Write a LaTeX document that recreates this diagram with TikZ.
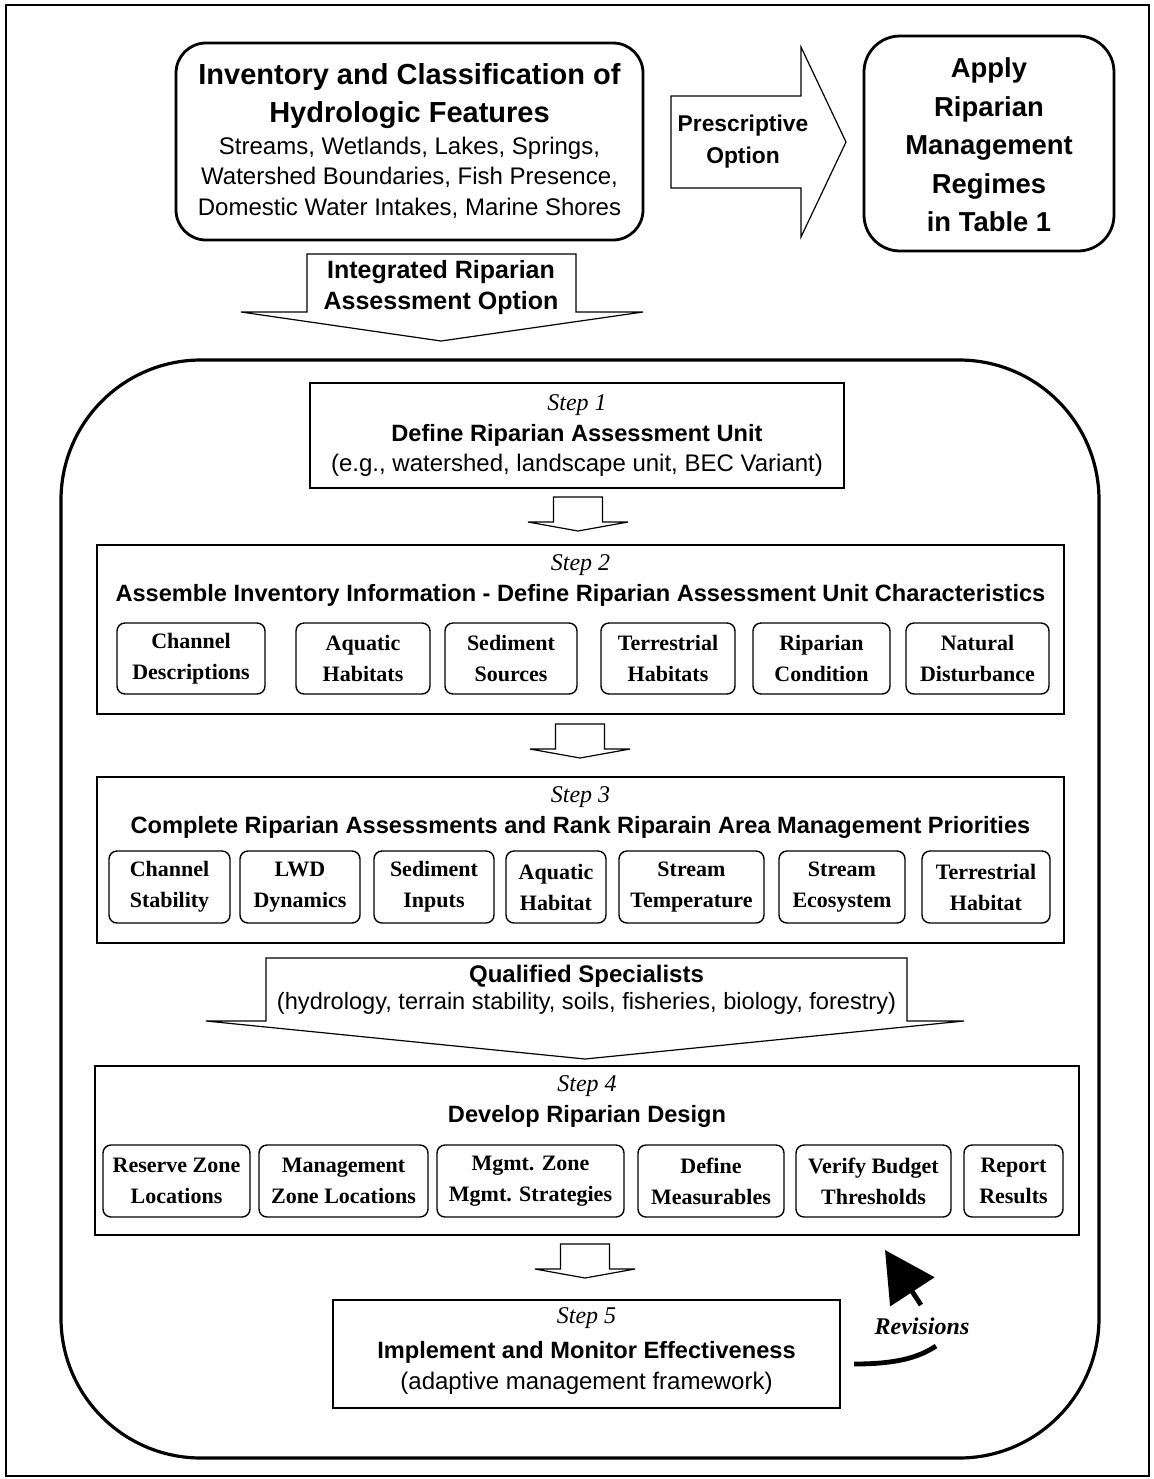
\documentclass[tikz,border=0pt]{standalone}
\usepackage{fontspec}
\setmainfont{Liberation Serif}
\setsansfont{Liberation Sans}
\usetikzlibrary{arrows.meta}
\begin{document}
\begin{tikzpicture}[x=0.5pt,y=-0.5pt,
   wh/.style n args={2}{minimum width=#1,minimum height=#2},
   topbox/.style={draw,line width=1.4pt,rounded corners=15pt,inner sep=0pt},
   stepbox/.style={draw,line width=0.9pt,inner sep=0pt},
   itembox/.style={draw,line width=0.7pt,rounded corners=4pt,inner sep=0pt,align=center,font=\fontsize{11}{15.5}\selectfont\bfseries},
   blockarrow/.style={draw,line width=0.6pt,line join=miter},
   arrowtext/.style={inner sep=0pt,align=center,font=\sffamily\bfseries\fontsize{12}{16}\selectfont},
   steplabel/.style={inner sep=0pt,font=\fontsize{12}{14}\selectfont\itshape},
   steptitle/.style={inner sep=0pt,font=\sffamily\bfseries\fontsize{11.8}{14}\selectfont},
   stepnote/.style={inner sep=0pt,font=\sffamily\fontsize{12}{14}\selectfont},
   revline/.style={line width=2.4pt,line cap=butt}]
\useasboundingbox (0,0) rectangle (1154,1479);
\draw[line width=0.7pt] (6,5) rectangle (1149,1476);
% top row
\node[topbox,wh={233.5pt}{98.5pt}] (inventory) at (409.5,141.5) {};
\node[inner sep=0pt,align=center,font=\sffamily\bfseries\fontsize{14.5}{19}\selectfont] (invtitle) at (409.5,96) {Inventory and Classification of\\Hydrologic Features};
\node[inner sep=0pt,align=center,font=\sffamily\fontsize{12}{15.25}\selectfont] (invlist) at (409.5,177.5) {Streams, Wetlands, Lakes, Springs,\\Watershed Boundaries, Fish Presence,\\Domestic Water Intakes, Marine Shores};
\draw[blockarrow] (671,96) -- (801,96) -- (801,47) -- (846,142) -- (801,237) -- (801,188) -- (671,188) -- cycle;
\node[arrowtext,font=\sffamily\bfseries\fontsize{11.4}{16}\selectfont] (prescr) at (743,142) {Prescriptive\\Option};
\node[topbox,rounded corners=18pt,wh={125pt}{107.5pt}] (apply) at (989,143.5) {};
\node[inner sep=0pt,align=center,font=\sffamily\bfseries\fontsize{13.7}{19.25}\selectfont] (applytxt) at (989,145) {Apply\\Riparian\\Management\\Regimes\\in Table 1};
\draw[blockarrow] (307,254) -- (576,254) -- (576,312) -- (643,312) -- (441,341) -- (241,312) -- (307,312) -- cycle;
\node[arrowtext,font=\sffamily\bfseries\fontsize{12.5}{15.5}\selectfont] (integ) at (441,287.5) {Integrated Riparian\\Assessment Option};
% assessment steps
\draw[line width=1.6pt,rounded corners=70pt] (61,360) rectangle (1099,1458);
\node[stepbox,wh={267pt}{52.5pt}] (step1) at (577,435.5) {};
\node[steplabel] (step1lbl) at (577,405) {Step 1};
\node[steptitle] (step1ttl) at (577,435) {Define Riparian Assessment Unit};
\node[stepnote] (step1note) at (577,465) {(e.g., watershed, landscape unit, BEC Variant)};
\foreach \cx/\ty in {578/497,580/724,585/1244} {
   \draw[blockarrow] (\cx-24.5,\ty) -- (\cx+24.5,\ty) -- (\cx+24.5,\ty+25) -- (\cx+50,\ty+25)
      -- (\cx,\ty+34) -- (\cx-50,\ty+25) -- (\cx-24.5,\ty+25) -- cycle;
}
\node[stepbox,wh={483.5pt}{84.5pt}] (step2) at (580.5,629.5) {};
\node[steplabel] (step2lbl) at (580.5,565) {Step 2};
\node[steptitle] (step2ttl) at (580.5,595) {Assemble Inventory Information - Define Riparian Assessment Unit Characteristics};
\foreach \xa/\xb/\txt [count=\i] in %
{117/265/{Channel\\Descriptions},296/430/{Aquatic\\Habitats},445/577/{Sediment\\Sources},
 601/735/{Terrestrial\\Habitats},753/890/{Riparian\\Condition},906/1049/{Natural\\Disturbance}} {
   \node[itembox,wh={(\xb-\xa)*0.5pt}{35.5pt}] (unit\i) at ({(\xa+\xb)/2},658.5) {\txt};
}
\node[stepbox,wh={483.5pt}{83pt}] (step3) at (580.5,860) {};
\node[steplabel] (step3lbl) at (580.5,797) {Step 3};
\node[steptitle] (step3ttl) at (580.5,827) {Complete Riparian Assessments and Rank Riparain Area Management Priorities};
\foreach \xa/\xb/\txt [count=\i] in %
{109/230/{Channel\\Stability},240/360/{LWD\\Dynamics},374/494/{Sediment\\Inputs},506/606/{Aquatic\\Habitat},
 619/764/{Stream\\Temperature},779/905/{Stream\\Ecosystem},922/1050/{Terrestrial\\Habitat}} {
   \node[itembox,wh={(\xb-\xa)*0.5pt}{36pt}] (assess\i) at ({(\xa+\xb)/2},887) {\txt};
}
\draw[blockarrow] (266,958) -- (907,958) -- (907,1021) -- (964,1021) -- (585,1059) -- (206,1021) -- (266,1021) -- cycle;
\node[arrowtext] (qualttl) at (586.5,976) {Qualified Specialists};
\node[stepnote,font=\sffamily\fontsize{11.8}{14}\selectfont] (qualnote) at (586.5,1003) {(hydrology, terrain stability, soils, fisheries, biology, forestry)};
\node[stepbox,wh={492pt}{84.5pt}] (step4) at (587,1150.5) {};
\node[steplabel] (step4lbl) at (587,1086) {Step 4};
\node[steptitle] (step4ttl) at (587,1116) {Develop Riparian Design};
\foreach \xa/\xb/\txt [count=\i] in %
{103/250/{Reserve Zone\\Locations},259/428/{Management\\Zone Locations},437/624/{Mgmt. Zone\\Mgmt. Strategies},
 638/784/{Define\\Measurables},796/951/{Verify Budget\\Thresholds},964/1063/{Report\\Results}} {
   \node[itembox,wh={(\xb-\xa)*0.5pt}{36pt}] (design\i) at ({(\xa+\xb)/2},1181) {\txt};
}
\node[stepbox,wh={253.5pt}{54pt}] (step5) at (586.5,1354) {};
\node[steplabel] (step5lbl) at (586.5,1318) {Step 5};
\node[steptitle] (step5ttl) at (586.5,1352) {Implement and Monitor Effectiveness};
\node[stepnote] (step5note) at (586.5,1383) {(adaptive management framework)};
% feedback
\node[inner sep=0pt,font=\fontsize{12}{14}\selectfont\bfseries\itshape] (revlabel) at (922,1326) {Revisions};
\coordinate (revfoot) at (854,1364);
\coordinate (revknee) at (936,1346);
\coordinate (revneck) at (921,1305);
\coordinate (revtip) at (885,1250);
\draw[revline] (revfoot) .. controls (895,1364) and (918,1358) .. (revknee);
\draw[revline,-{Triangle[length=25pt,width=26pt]}] (revneck) -- (revtip);
\end{tikzpicture}
\end{document}
